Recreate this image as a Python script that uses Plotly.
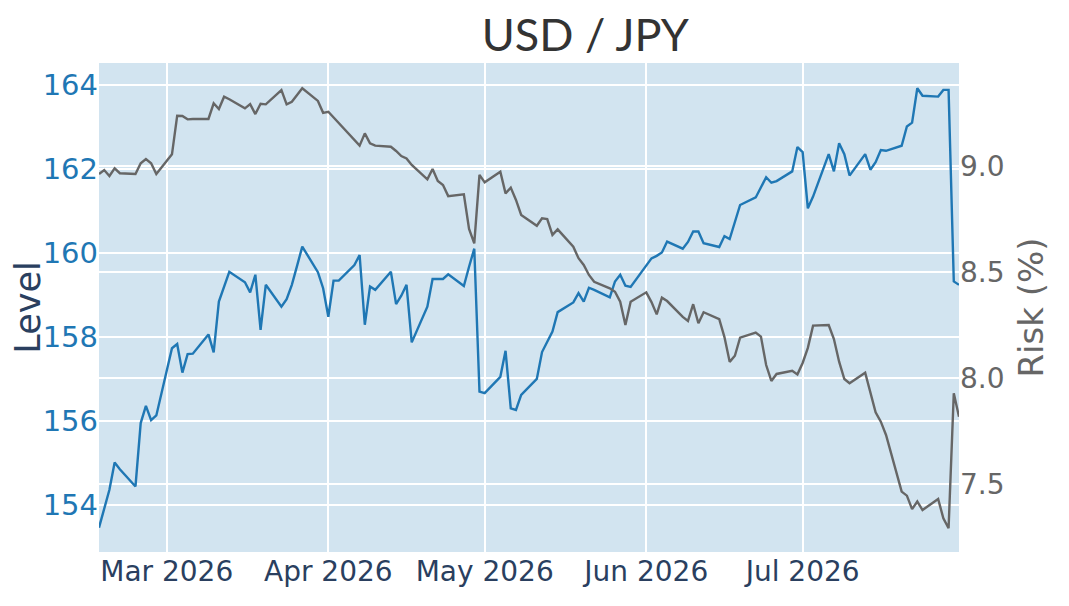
import pandas as pd
import plotly.graph_objects as go

# business-day dates shown on the x axis
dates = pd.bdate_range("2026-02-16", "2026-07-31")

level = [
    153.46, 153.92, 154.36, 155.01, 154.85,
    154.44, 155.95, 156.36, 156.02, 156.13,
    157.73, 157.83, 157.15, 157.59, 157.60,
    158.06, 157.63, 158.84, 159.21, 159.55,
    159.30, 159.06, 159.48, 158.17, 159.24,
    158.72, 158.90, 159.24, 159.69, 160.15,
    159.54, 159.16, 158.48, 159.34, 159.34,
    159.71, 159.95, 158.29, 159.20, 159.12,
    159.55, 158.78, 158.98, 159.24, 157.87,
    158.72, 159.38, 159.38, 159.38, 159.49,
    159.21, 159.67, 160.10, 156.70, 156.66,
    157.05, 157.67, 156.30, 156.26, 156.62,
    157.00, 157.64, 157.89, 158.13, 158.59,
    158.82, 159.04, 158.84, 159.17, 159.12,
    158.94, 159.32, 159.48, 159.22, 159.19,
    159.70, 159.87, 159.93, 160.01, 160.27,
    160.10, 160.26, 160.51, 160.51, 160.23,
    160.14, 160.40, 160.33, 160.72, 161.14,
    161.32, 161.55, 161.80, 161.67, 161.71,
    161.94, 162.52, 162.40, 161.06, 161.34,
    162.35, 161.94, 162.61, 162.35, 161.84,
    162.35, 161.98, 162.16, 162.45, 162.43,
    162.55, 163.01, 163.10, 163.92, 163.74,
    163.72, 163.88, 163.88, 159.32, 159.24,
]

risk = [
    8.962, 8.981, 8.953, 8.989, 8.966,
    8.962, 9.013, 9.033, 9.013, 8.962,
    9.055, 9.237, 9.236, 9.220, 9.222,
    9.222, 9.296, 9.269, 9.327, 9.315,
    9.272, 9.292, 9.245, 9.294, 9.291,
    9.358, 9.291, 9.303, 9.335, 9.367,
    9.307, 9.251, 9.256, 9.229, 9.201,
    9.121, 9.096, 9.154, 9.107, 9.096,
    9.091, 9.071, 9.047, 9.036, 9.005,
    8.937, 8.986, 8.929, 8.910, 8.858,
    8.867, 8.703, 8.635, 8.958, 8.923,
    8.973, 8.871, 8.898, 8.840, 8.769,
    8.718, 8.753, 8.750, 8.675, 8.701,
    8.619, 8.565, 8.533, 8.486, 8.454,
    8.423, 8.407, 8.360, 8.250, 8.360,
    8.404, 8.358, 8.300, 8.379, 8.363,
    8.288, 8.269, 8.348, 8.258, 8.310,
    8.278, 8.193, 8.076, 8.105, 8.190,
    8.214, 8.195, 8.061, 7.986, 8.019,
    8.034, 8.017, 8.071, 8.142, 8.247,
    8.250, 8.184, 8.077, 7.995, 7.975,
    8.025, 7.935, 7.838, 7.794, 7.731,
    7.464, 7.445, 7.381, 7.417, 7.377,
    7.429, 7.338, 7.291, 7.928, 7.817,
]

BLUE = "#1f77b4"
GRAY = "#666666"
TICKFONT = "DejaVu Sans"

fig = go.Figure()
fig.add_trace(go.Scatter(x=dates, y=level, mode="lines", name="Level",
                         line=dict(color=BLUE, width=2.4)))
fig.add_trace(go.Scatter(x=dates, y=risk, mode="lines", name="Risk (%)",
                         line=dict(color=GRAY, width=2.4), yaxis="y2"))

fig.update_layout(
    template="plotly",
    width=1069, height=606,
    margin=dict(l=91, r=118, t=55, b=62, autoexpand=False),
    showlegend=False,
    plot_bgcolor="rgb(210,228,240)",
    paper_bgcolor="white",
    title=dict(text="USD / JPY", x=0.54, xanchor="center", y=0.955, yanchor="middle",
               font=dict(family="Lato", size=45, color="#333333")),
    xaxis=dict(tickfont=dict(family=TICKFONT, size=28, color="#2a3f5f"), automargin=False,
               dtick="M1", tickformat="%b %Y", gridcolor="white", gridwidth=1.5),
    yaxis=dict(title=dict(text="Level", font=dict(family=TICKFONT, size=35, color="#2a3f5f")),
               tickfont=dict(family=TICKFONT, size=29, color=BLUE), automargin=False,
               range=[152.88, 164.52], dtick=2, gridcolor="white", gridwidth=1.5,
               zeroline=False),
    yaxis2=dict(title=dict(text="Risk (%)", font=dict(family=TICKFONT, size=34, color=GRAY)),
                tickfont=dict(family=TICKFONT, size=28, color=GRAY), automargin=False,
                overlaying="y", side="right", range=[7.179, 9.486], dtick=0.5,
                tickformat=".1f", gridcolor="white", gridwidth=1.5, zeroline=False),
)

fig.write_html("out.html")
